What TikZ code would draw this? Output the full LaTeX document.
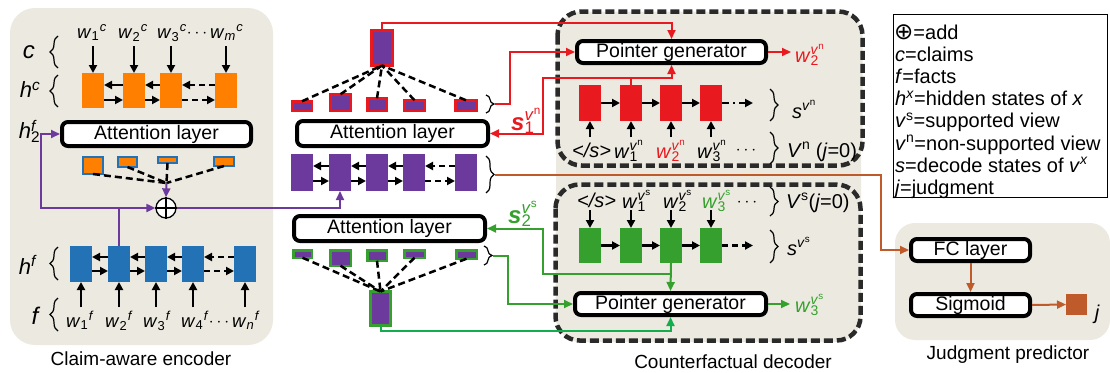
\documentclass[tikz,border=0pt]{standalone}
\usepackage{fontspec}
\setmainfont{Liberation Sans}
\newfontfamily\dejavu{DejaVu Sans}
\usetikzlibrary{arrows.meta,decorations.pathreplacing}
\definecolor{beige}{HTML}{ECEAE0}
\definecolor{orng}{HTML}{FF7F00}
\definecolor{blu}{HTML}{2272B5}
\definecolor{purp}{HTML}{6C3A9C}
\definecolor{rd}{HTML}{E8191F}
\definecolor{grn}{HTML}{35A02E}
\definecolor{grn2}{HTML}{14AD4E}
\definecolor{brn}{HTML}{BF5B2A}
\definecolor{dgray}{HTML}{2A2A2A}
\newcommand\fsz[1]{\fontsize{#1}{#1}\selectfont}
\newcommand\wc[2]{\textit{w}\textsubscript{#1}\kern0.5pt\textsuperscript{\textit{#2}}}
\newcommand\wv[2]{\textit{w}\rlap{\textsubscript{#1}}\textsuperscript{\textit{v}\textsuperscript{#2}}}
\begin{document}
\begin{tikzpicture}[x=1pt,y=-1pt,
  cell/.style={inner sep=0pt, outer sep=0pt, draw=none},
  layer/.style={draw=black, line width=4pt, rounded corners=6pt, fill=white, inner sep=0pt, font=\fsz{19.5}},
  rnnarr/.style={line width=2.5pt, -{Triangle[length=8pt,width=8pt]}},
  dsh/.style={line width=2.5pt, dash pattern=on 7pt off 4pt},
  conn/.style={line width=2pt, -{Triangle[length=9pt,width=8pt]}},
  brc/.style={decorate, decoration={brace, amplitude=8pt}, line width=1.2pt},
  dbox/.style={draw=dgray, fill=beige, line width=4.5pt, dash pattern=on 9pt off 4pt, rounded corners=24pt},
  word/.style={anchor=base west, inner sep=0pt, font=\fsz{20}},
  lword/.style={anchor=base west, inner sep=0pt, font=\fsz{18.5}},
  lbl/.style={inner sep=0pt, font=\fsz{19}}]
\useasboundingbox (0,0) rectangle (1110,372);

% ---------- panels ----------
\fill[beige, rounded corners=25pt] (10,8) rectangle (273,345);
\fill[beige, rounded corners=25pt] (556,14) rectangle (861,342);
\draw[dbox] (557.5,11.5) rectangle (862.5,165.5);
\draw[dbox] (555.5,184.5) rectangle (860.5,340.5);
\fill[beige, rounded corners=20pt] (895,223) rectangle (1110,340);

\node[lbl] (lblenc) at (141,359) {Claim-aware encoder};
\node[lbl] (lbldec) at (733,362) {Counterfactual decoder};
\node[lbl] (lbljud) at (1008,355) {Judgment predictor};

% ---------- claim-aware encoder ----------
\node[inner sep=0pt, font=\fsz{24}\itshape] (lc) at (29,52) {c};
\node[inner sep=0pt, font=\fsz{22}] (lhc) at (30,90) {\textit{h}\textsuperscript{\textit{c}}};
\node[inner sep=0pt, font=\fsz{22}] (lh2f) at (28,131) {\textit{h}\rlap{\textsubscript{2}}\textsuperscript{\textit{f}}};
\node[inner sep=0pt, font=\fsz{22}] (lhf) at (28,265) {\textit{h}\textsuperscript{\textit{f}}};
\node[inner sep=0pt, font=\fsz{24}\itshape] (lf) at (35,316) {f};
\draw[brc] (58,68) -- (58,36);
\draw[brc] (58,107) -- (58,75);
\draw[brc] (58,280) -- (58,247);
\draw[brc] (58,331) -- (58,298);

\node[lword] (wc1) at (77,38) {\wc{1}{c}};
\node[lword] (wc2) at (118,38) {\wc{2}{c}};
\node[lword] (wc3) at (157,38) {\wc{3}{c}};
\node[inner sep=0pt, font=\fsz{18}] (wcd) at (197,34) {$\cdots$};
\node[lword] (wcm) at (210,38) {\wc{\textit{m}}{c}};

\foreach \n/\x in {1/93,2/134,3/171,4/226}
  \node[cell, fill=orng, minimum width=22pt, minimum height=35pt] (oc\n) at (\x,90.5) {};
\foreach \n in {1,...,4} \draw[rnnarr] ([yshift=27pt]oc\n.north) -- (oc\n.north);
\foreach \ca/\cb in {oc1/oc2,oc2/oc3}{
  \draw[rnnarr] ([yshift=5.5pt]\cb.west) -- ([yshift=5.5pt]\ca.east);
  \draw[rnnarr] ([yshift=-9.5pt]\ca.east) -- ([yshift=-9.5pt]\cb.west);}
\draw[rnnarr, dash pattern=on 6pt off 4pt] ([yshift=5.5pt]oc4.west) -- ([yshift=5.5pt]oc3.east);
\draw[rnnarr, dash pattern=on 6pt off 4pt] ([yshift=-9.5pt]oc3.east) -- ([yshift=-9.5pt]oc4.west);

\node[layer, minimum width=189pt, minimum height=24pt] (attn1) at (156.5,134) {Attention layer};

\foreach \n/\x/\y/\w/\h in {1/93/165.5/20pt/17pt,2/127.5/162/19pt/10pt,3/167.5/160/19pt/6pt,4/224/161.5/20pt/9pt}
  \node[cell, fill=orng, draw=blu, line width=2pt, minimum width=\w, minimum height=\h] (ow\n) at (\x,\y) {};
\coordinate (omerge) at (166.5,183);
\foreach \n in {1,...,4} \draw[dsh] (ow\n.south) -- (omerge);

\node[circle, draw=black, line width=1.3pt, fill=white, minimum size=20pt, inner sep=0pt] (plus) at (166,208) {};
\draw[line width=1.3pt] (plus.north) -- (plus.south) (plus.west) -- (plus.east);

\foreach \n/\x in {1/81,2/119,3/156,4/193,5/245}
  \node[cell, fill=blu, minimum width=22pt, minimum height=36pt] (bc\n) at (\x,264) {};
\foreach \ca/\cb in {bc1/bc2,bc2/bc3,bc3/bc4}{
  \draw[rnnarr] ([yshift=7pt]\cb.west) -- ([yshift=7pt]\ca.east);
  \draw[rnnarr] ([yshift=-7pt]\ca.east) -- ([yshift=-7pt]\cb.west);}
\draw[rnnarr, dash pattern=on 6pt off 4pt] ([yshift=7pt]bc5.west) -- ([yshift=7pt]bc4.east);
\draw[rnnarr, dash pattern=on 6pt off 4pt] ([yshift=-7pt]bc4.east) -- ([yshift=-7pt]bc5.west);
\foreach \n in {1,...,5} \draw[rnnarr] ([yshift=-25pt]bc\n.south) -- (bc\n.south);

\node[lword] (wf1) at (66,327) {\wc{1}{f}};
\node[lword] (wf2) at (105,327) {\wc{2}{f}};
\node[lword] (wf3) at (143,327) {\wc{3}{f}};
\node[lword] (wf4) at (181,327) {\wc{4}{f}};
\node[inner sep=0pt, font=\fsz{18}] (wfd) at (219,323) {$\cdots$};
\node[lword] (wfn) at (232,327) {\wc{\textit{n}}{f}};

% ---------- middle column ----------
\node[cell, fill=purp, draw=rd, line width=3pt, minimum width=21pt, minimum height=35pt] (bigred) at (382,48) {};
\foreach \n/\x/\y/\w/\h in {1/302/106/19.5pt/9.5pt,2/340.5/102.5/20.5pt/16.5pt,3/377/104.5/19.5pt/12.5pt,4/414.5/105.5/20.5pt/10.5pt,5/466/105.5/21.5pt/10.5pt}
  \node[cell, fill=purp, draw=rd, line width=2.5pt, minimum width=\w, minimum height=\h] (rw\n) at (\x,\y) {};
\foreach \n in {1,...,5} \draw[dsh] (rw\n.north) -- (bigred.south);
\draw[brc] (486,95) -- (486,113);
\coordinate (rtip) at (495,104);

\node[layer, minimum width=191pt, minimum height=25pt] (attn2) at (392.5,133.5) {Attention layer};

\foreach \n/\x in {1/302,2/340,3/377,4/414,5/466}
  \node[cell, fill=purp, minimum width=22pt, minimum height=37pt] (pc\n) at (\x,172.5) {};
\foreach \ca/\cb in {pc1/pc2,pc2/pc3,pc3/pc4}{
  \draw[rnnarr] ([yshift=6.5pt]\cb.west) -- ([yshift=6.5pt]\ca.east);
  \draw[rnnarr] ([yshift=-8.5pt]\ca.east) -- ([yshift=-8.5pt]\cb.west);}
\draw[rnnarr, dash pattern=on 6pt off 4pt] ([yshift=6.5pt]pc5.west) -- ([yshift=6.5pt]pc4.east);
\draw[rnnarr, dash pattern=on 6pt off 4pt] ([yshift=-8.5pt]pc4.east) -- ([yshift=-8.5pt]pc5.west);
\draw[brc] (486,156) -- (486,193);
\coordinate (ptip) at (495,175);

\node[layer, minimum width=191pt, minimum height=25pt] (attn3) at (389.5,228.5) {Attention layer};

\foreach \n/\x/\y/\w/\h in {1/302.5/254/18.5pt/7.5pt,2/340.5/258/20.5pt/15.5pt,3/377/255.5/19.5pt/10.5pt,4/414.5/254/20.5pt/7.5pt,5/466.5/254.5/20.5pt/8.5pt}
  \node[cell, fill=purp, draw=grn, line width=2.5pt, minimum width=\w, minimum height=\h] (gw\n) at (\x,\y) {};
\node[cell, fill=purp, draw=grn, line width=3pt, minimum width=20pt, minimum height=34pt] (biggreen) at (380.5,308.5) {};
\foreach \n in {1,...,5} \draw[dsh] (gw\n.south) -- (biggreen.north);
\draw[brc] (484,246) -- (484,265);
\coordinate (gtip) at (493,256);

% ---------- decoder, non-supported ----------
\node[layer, minimum width=189pt, minimum height=22pt] (pg1) at (671.5,52) {Pointer generator};
\foreach \n/\x in {1/590,2/631,3/671,4/711}
  \node[cell, fill=rd, minimum width=22pt, minimum height=36pt] (rc\n) at (\x,103) {};
\foreach \ca/\cb in {rc1/rc2,rc2/rc3,rc3/rc4} \draw[rnnarr] (\ca.east) -- (\cb.west);
\coordinate (rend) at (753,103);
\draw[rnnarr, dash pattern=on 7pt off 4pt on 2pt off 4pt] (rc4.east) -- (rend);
\foreach \n in {1,...,4} \draw[rnnarr] ([yshift=-16pt]rc\n.south) -- (rc\n.south);
\node[word] (dn0) at (572,157) {\textit{</s>}};
\node[word] (dn1) at (614,158) {\wv{1}{n}};
\node[word, text=rd] (dn2) at (656,158) {\wv{2}{n}};
\node[word] (dn3) at (697,158) {\wv{3}{n}};
\node[inner sep=0pt, font=\fsz{18}] (dnd) at (746,151) {$\cdots$};
\draw[brc] (770,89) -- (770,121);
\draw[brc] (770,132) -- (770,164);
\node[word] (lsn) at (792,118) {\textit{s}\textsuperscript{\textit{v}\textsuperscript{n}}};
\node[word] (lvn) at (787,157) {\textit{V}\textsuperscript{n} (\textit{j}=0)};
\coordinate (outn1) at (791,52);
\draw[conn, rd] (pg1.east) -- (outn1);
\node[word, text=rd] (outn) at (795,62) {\wv{2}{n}};

% ---------- decoder, supported ----------
\node[word] (ds0) at (577,207) {\textit{</s>}};
\node[word] (ds1) at (622,208) {\wv{1}{s}};
\node[word] (ds2) at (663,208) {\wv{2}{s}};
\node[word, text=grn] (ds3) at (702,208) {\wv{3}{s}};
\node[inner sep=0pt, font=\fsz{18}] (dsd) at (747,203) {$\cdots$};
\foreach \n/\x in {1/590,2/631,3/671,4/711}
  \node[cell, fill=grn, minimum width=22pt, minimum height=35pt] (gc\n) at (\x,245.5) {};
\foreach \ca/\cb in {gc1/gc2,gc2/gc3,gc3/gc4} \draw[rnnarr] (\ca.east) -- (\cb.west);
\coordinate (gend) at (753,245.5);
\draw[rnnarr, dash pattern=on 6pt off 4pt] (gc4.east) -- (gend);
\foreach \n in {1,...,4} \draw[rnnarr] ([yshift=18pt]gc\n.north) -- (gc\n.north);
\draw[brc] (770,187) -- (770,216);
\draw[brc] (770,230) -- (770,263);
\node[word] (lvs) at (786,208) {\textit{V}\textsuperscript{s}(\textit{j}=0)};
\node[word] (lss) at (787,255) {\textit{s}\textsuperscript{\textit{v}\textsuperscript{s}}};
\node[layer, minimum width=191pt, minimum height=22pt] (pg2) at (670.5,304) {Pointer generator};
\coordinate (outs1) at (790,304);
\draw[conn, grn] (pg2.east) -- (outs1);
\node[word, text=grn] (outs) at (795,312) {\wv{3}{s}};

% ---------- judgment predictor ----------
\node[layer, minimum width=119pt, minimum height=22pt] (fc) at (970.5,250) {FC layer};
\node[layer, minimum width=119pt, minimum height=22pt] (sig) at (970.5,305) {Sigmoid};
\node[cell, fill=brn, minimum width=21pt, minimum height=21pt] (jbox) at (1076.5,304.5) {};
\node[inner sep=0pt, font=\fsz{20}\itshape] (jl) at (1097,314) {j};

% ---------- legend ----------
\node[draw=black, line width=1.3pt, fill=white, minimum width=214pt, minimum height=183pt, inner sep=0pt] (leg) at (1000.5,106) {};
\node[word] (lg1) at (894,39) {{\dejavu\fsz{23}⊕}=add};
\node[word] (lg2) at (895,61.2) {\textit{c}=claims};
\node[word] (lg3) at (895,83.4) {\textit{f}=facts};
\node[word] (lg4) at (895,105.6) {\textit{h}\textsuperscript{\textit{x}}=hidden states of \textit{x}};
\node[word] (lg5) at (895,127.8) {\textit{v}\textsuperscript{s}=supported view};
\node[word] (lg6) at (895,150) {\textit{v}\textsuperscript{n}=non-supported view};
\node[word] (lg7) at (895,172.2) {\textit{s}=decode states of \textit{v}\textsuperscript{\textit{x}}};
\node[word] (lg8) at (895,194.4) {\textit{j}=judgment};

% ---------- connectors ----------
% purple
\coordinate (pcorner) at (41,208);
\draw[conn, purp] (bc2.north) |- (pcorner) |- (attn1.west);
\draw[conn, purp] (bc2.north |- plus) -- (plus.west);
\draw[conn, purp] (omerge) -- (plus.north);
\draw[conn, purp] (plus.east) -| (pc2.south);
% red
\draw[conn, rd] (bigred.north) -- ++(0,-8) -| (pg1.north);
\coordinate (rx1) at (510,104);
\draw[conn, rd] (rtip) -- (rx1) |- (pg1.west);
\coordinate (rj) at (631,78);
\coordinate (rx2) at (543,133.5);
\draw[conn, rd] (rc2.north) -- (rj) -| (pg1.south);
\draw[conn, rd] (rj) -| (rx2) -- (attn2.east);
\node[anchor=base west, inner sep=0pt, text=rd, font=\fsz{24}] (s1) at (511,130) {{\bfseries\itshape s}\rlap{\textsubscript{1}}\textsuperscript{\textit{v}\textsuperscript{n}}};
% green
\draw[conn, grn] (gc3.south) -- (pg2.north);
\coordinate (gj) at (671,274);
\coordinate (gx2) at (543,228.5);
\draw[conn, grn] (gj) -| (gx2) -- (attn3.east);
\coordinate (gx1) at (508,256);
\draw[conn, grn] (gtip) -- (gx1) |- (pg2.west);
\draw[conn, grn2] (biggreen.south) -- ++(0,5) -| (pg2.south);
\node[anchor=base west, inner sep=0pt, text=grn, font=\fsz{24}] (s2) at (508,223) {{\bfseries\itshape s}\rlap{\textsubscript{2}}\textsuperscript{\textit{v}\textsuperscript{s}}};
% brown
\coordinate (bx) at (881,250);
\draw[conn, brn] (ptip) -| (bx) -- (fc.west);
\draw[conn, brn] (fc.south) -- (sig.north);
\draw[conn, brn] (sig.east) -- (jbox.west);
\end{tikzpicture}
\end{document}
